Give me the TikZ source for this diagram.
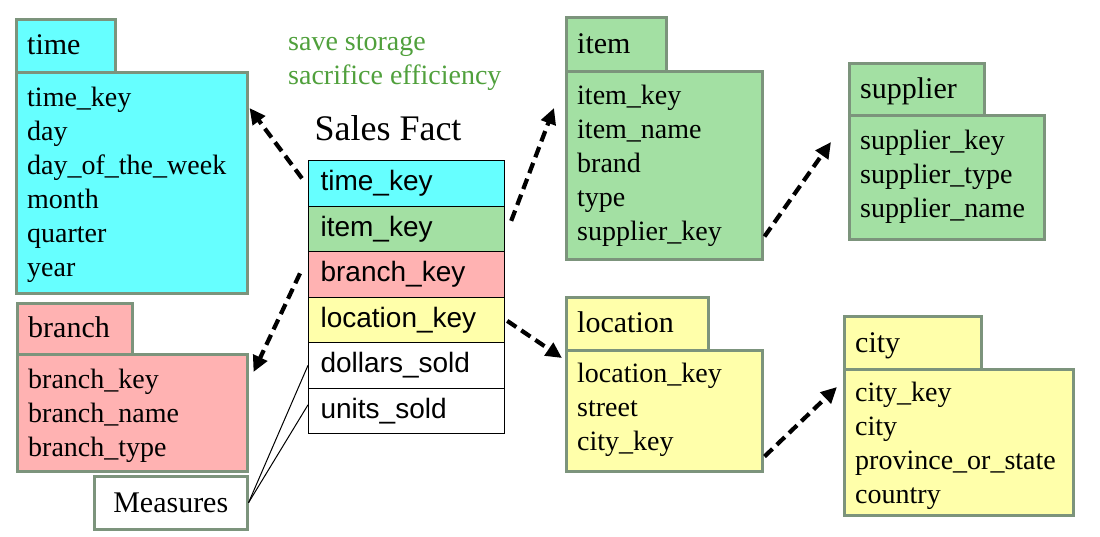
\documentclass[tikz,border=0pt]{standalone}
\usepackage{fontspec}
\setmainfont{Liberation Serif}
\setsansfont{Liberation Sans}
\usetikzlibrary{arrows.meta,calc}
\definecolor{cyc}{RGB}{102,255,255}
\definecolor{grc}{RGB}{163,224,163}
\definecolor{pkc}{RGB}{255,178,178}
\definecolor{ylc}{RGB}{255,255,170}
\definecolor{bordc}{RGB}{124,148,124}
\definecolor{notec}{RGB}{80,160,60}
\tikzset{
  frame/.style={draw=bordc, line width=2.5pt, inner sep=0pt, anchor=north west},
  titletext/.style={anchor=base west, inner sep=0pt, font=\fontsize{30}{36}\selectfont},
  fieldtext/.style={anchor=north west, inner sep=0pt, align=left, font=\fontsize{28}{34}\selectfont},
  factrow/.style={draw=black, line width=1.2pt, anchor=north west, minimum width=196pt,
     minimum height=45.5pt, text width=172pt, inner xsep=12pt, inner ysep=0pt, align=left,
     font=\sffamily\fontsize{28}{34}\selectfont},
  fk/.style={line width=4.2pt, dash pattern=on 11pt off 6pt, -{Triangle[length=16pt,width=15pt]}},
  thin/.style={line width=1pt}
}
\begin{document}
\begin{tikzpicture}[x=1pt,y=-1pt]
\useasboundingbox (0,0) rectangle (1100,536);

% time
\node[frame, fill=cyc, minimum width=231pt, minimum height=221pt] (timeB) at (15,71) {};
\node[frame, fill=cyc, minimum width=99pt, minimum height=53pt] (timeT) at (15,18) {};
\node[titletext] (timeL) at (27,54) {time};
\node[fieldtext] (timeF) at (27,87) {time\_key\\day\\day\_of\_the\_week\\month\\quarter\\year};

% branch
\node[frame, fill=pkc, minimum width=230pt, minimum height=117pt] (branchB) at (16,353) {};
\node[frame, fill=pkc, minimum width=115pt, minimum height=51pt] (branchT) at (16,302) {};
\node[titletext] (branchL) at (28,337) {branch};
\node[fieldtext] (branchF) at (28,369) {branch\_key\\branch\_name\\branch\_type};

% measures
\node[frame, fill=white, minimum width=153pt, minimum height=53pt,
      font=\fontsize{30}{36}\selectfont] (meas) at (93,475) {Measures};

% item
\node[frame, fill=grc, minimum width=196pt, minimum height=188pt] (itemB) at (565,70) {};
\node[frame, fill=grc, minimum width=100pt, minimum height=54pt] (itemT) at (565,16) {};
\node[titletext] (itemL) at (577,53) {item};
\node[fieldtext] (itemF) at (577,85) {item\_key\\item\_name\\brand\\type\\supplier\_key};

% supplier
\node[frame, fill=grc, minimum width=195pt, minimum height=124pt] (supB) at (848,114) {};
\node[frame, fill=grc, minimum width=135pt, minimum height=52pt] (supT) at (848,62) {};
\node[titletext] (supL) at (860,98) {supplier};
\node[fieldtext] (supF) at (860,130) {supplier\_key\\supplier\_type\\supplier\_name};

% location
\node[frame, fill=ylc, minimum width=196pt, minimum height=121pt] (locB) at (565,349) {};
\node[frame, fill=ylc, minimum width=142pt, minimum height=53pt] (locT) at (565,296) {};
\node[titletext] (locL) at (577,332) {location};
\node[fieldtext] (locF) at (577,363) {location\_key\\street\\city\_key};

% city
\node[frame, fill=ylc, minimum width=229pt, minimum height=146pt] (cityB) at (843,368) {};
\node[frame, fill=ylc, minimum width=137pt, minimum height=53pt] (cityT) at (843,315) {};
\node[titletext] (cityL) at (855,352) {city};
\node[fieldtext] (cityF) at (855,382) {city\_key\\city\\province\_or\_state\\country};

% note
\node[anchor=north west, inner sep=0pt, align=left, text=notec,
      font=\fontsize{28}{34}\selectfont] (note) at (288,35) {save storage\\sacrifice efficiency};

% fact table
\node[inner sep=0pt, font=\fontsize{36}{42}\selectfont] (factL) at (388,128) {Sales Fact};
\node[factrow, fill=cyc] (fTime) at (308,160) {time\_key};
\node[factrow, fill=grc] (fItem) at (308,205.5) {item\_key};
\node[factrow, fill=pkc] (fBranch) at (308,251) {branch\_key};
\node[factrow, fill=ylc] (fLoc) at (308,296.5) {location\_key};
\node[factrow, fill=white] (fDol) at (308,342) {dollars\_sold};
\node[factrow, fill=white] (fUnits) at (308,387.5) {units\_sold};

% measure links
\draw[thin] (meas.east) -- (fDol.west);
\draw[thin] (meas.east) -- ($(fUnits.west)+(0,-6)$);

% foreign key arrows
\draw[fk] ($(fTime.west)+(-6,-5)$) -- ($(timeB.north east)+(1,37)$);
\draw[fk] ($(fItem.east)+(6,-8)$) -- ($(itemB.north west)+(-11,38)$);
\draw[fk] ($(fBranch.west)+(-8,-1)$) -- ($(branchB.north east)+(5,19)$);
\draw[fk] ($(fLoc.east)+(2,1)$) -- ($(locB.north west)+(-3,9)$);
\draw[fk] ($(itemB.south east)+(1,-24)$) -- ($(supB.north west)+(-17,28)$);
\draw[fk] ($(locB.south east)+(1,-16)$) -- ($(cityB.north west)+(-6,19)$);
\end{tikzpicture}
\end{document}
